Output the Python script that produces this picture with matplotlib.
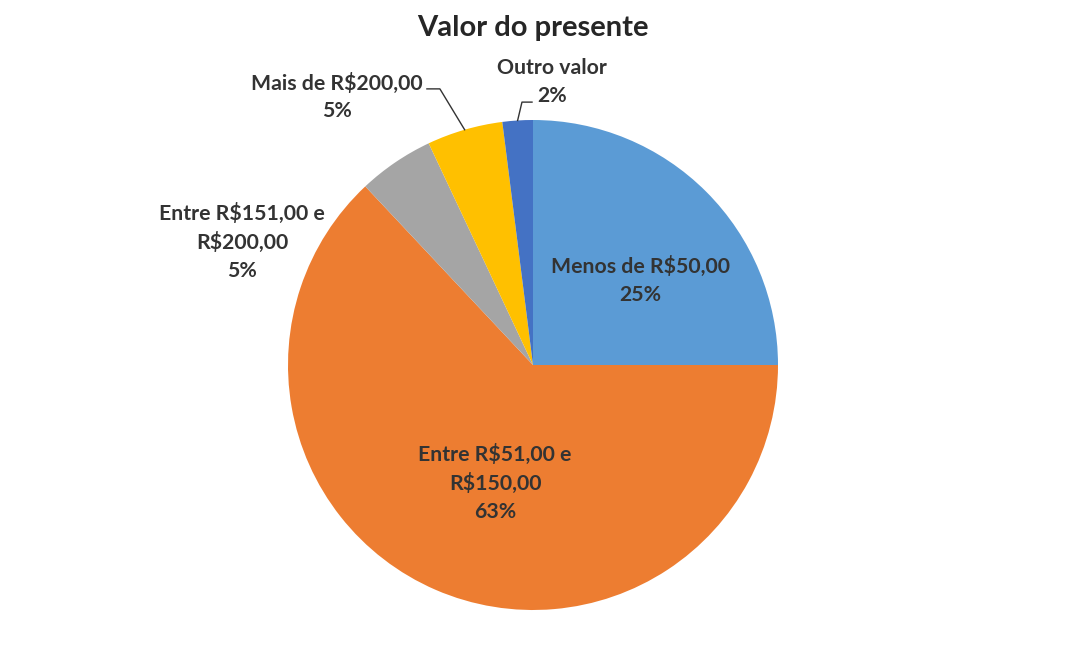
import matplotlib
matplotlib.use("Agg")
import matplotlib.pyplot as plt
import numpy as np

categories = ["Menos de R$50,00", "Entre R$51,00 e\nR$150,00", "Entre R$151,00 e\nR$200,00",
              "Mais de R$200,00", "Outro valor"]
values = [25, 63, 5, 5, 2]
pct_labels = ["25%", "63%", "5%", "5%", "2%"]
colors = ["#5B9BD5", "#ED7D31", "#A5A5A5", "#FFC000", "#4472C4"]
title = "Valor do presente"

plt.rcParams['font.family'] = ['Lato', 'DejaVu Sans']
W, H = 1068, 665
fig = plt.figure(figsize=(W/100, H/100), dpi=100)
cx, cy, R = 533, 365, 245
ax = fig.add_axes([(cx-R)/W, (H-cy-R)/H, 2*R/W, 2*R/H])
wedges, _ = ax.pie(values, colors=colors, startangle=90, counterclock=False,
                   wedgeprops=dict(linewidth=0))
ax.set_xlim(-1, 1); ax.set_ylim(-1, 1); ax.set_aspect('equal'); ax.axis('off')

tc = "#333333"
fs = 15.3
ls = 1.5
def mid(w):
    a = np.deg2rad((w.theta1 + w.theta2) / 2)
    return np.cos(a), np.sin(a)

def lab(i, x, y):
    ax.text(x, y, f"{categories[i]}\n{pct_labels[i]}", ha='center', va='center',
            fontsize=fs, fontweight='bold', color=tc, linespacing=ls)

# inside labels
lab(0, 0.437, 0.347)
lab(1, -0.155, -0.482)
# outside labels
lab(2, -1.188, 0.502)
lab(3, -0.80, 1.094)
lab(4, 0.078, 1.155)

# leader lines
mx, my = mid(wedges[3])
ax.plot([-0.433, -0.380, mx], [1.127, 1.127, my], color=tc, lw=1, clip_on=False)
ox, oy = mid(wedges[4])
ax.plot([-0.004, -0.045, ox], [1.073, 1.073, oy], color=tc, lw=1, clip_on=False)

fig.text(cx/W, 1 - 28/H, title, ha='center', va='center', fontsize=21, fontweight='bold', color="#262626")
fig.savefig("out.png", dpi=100)
